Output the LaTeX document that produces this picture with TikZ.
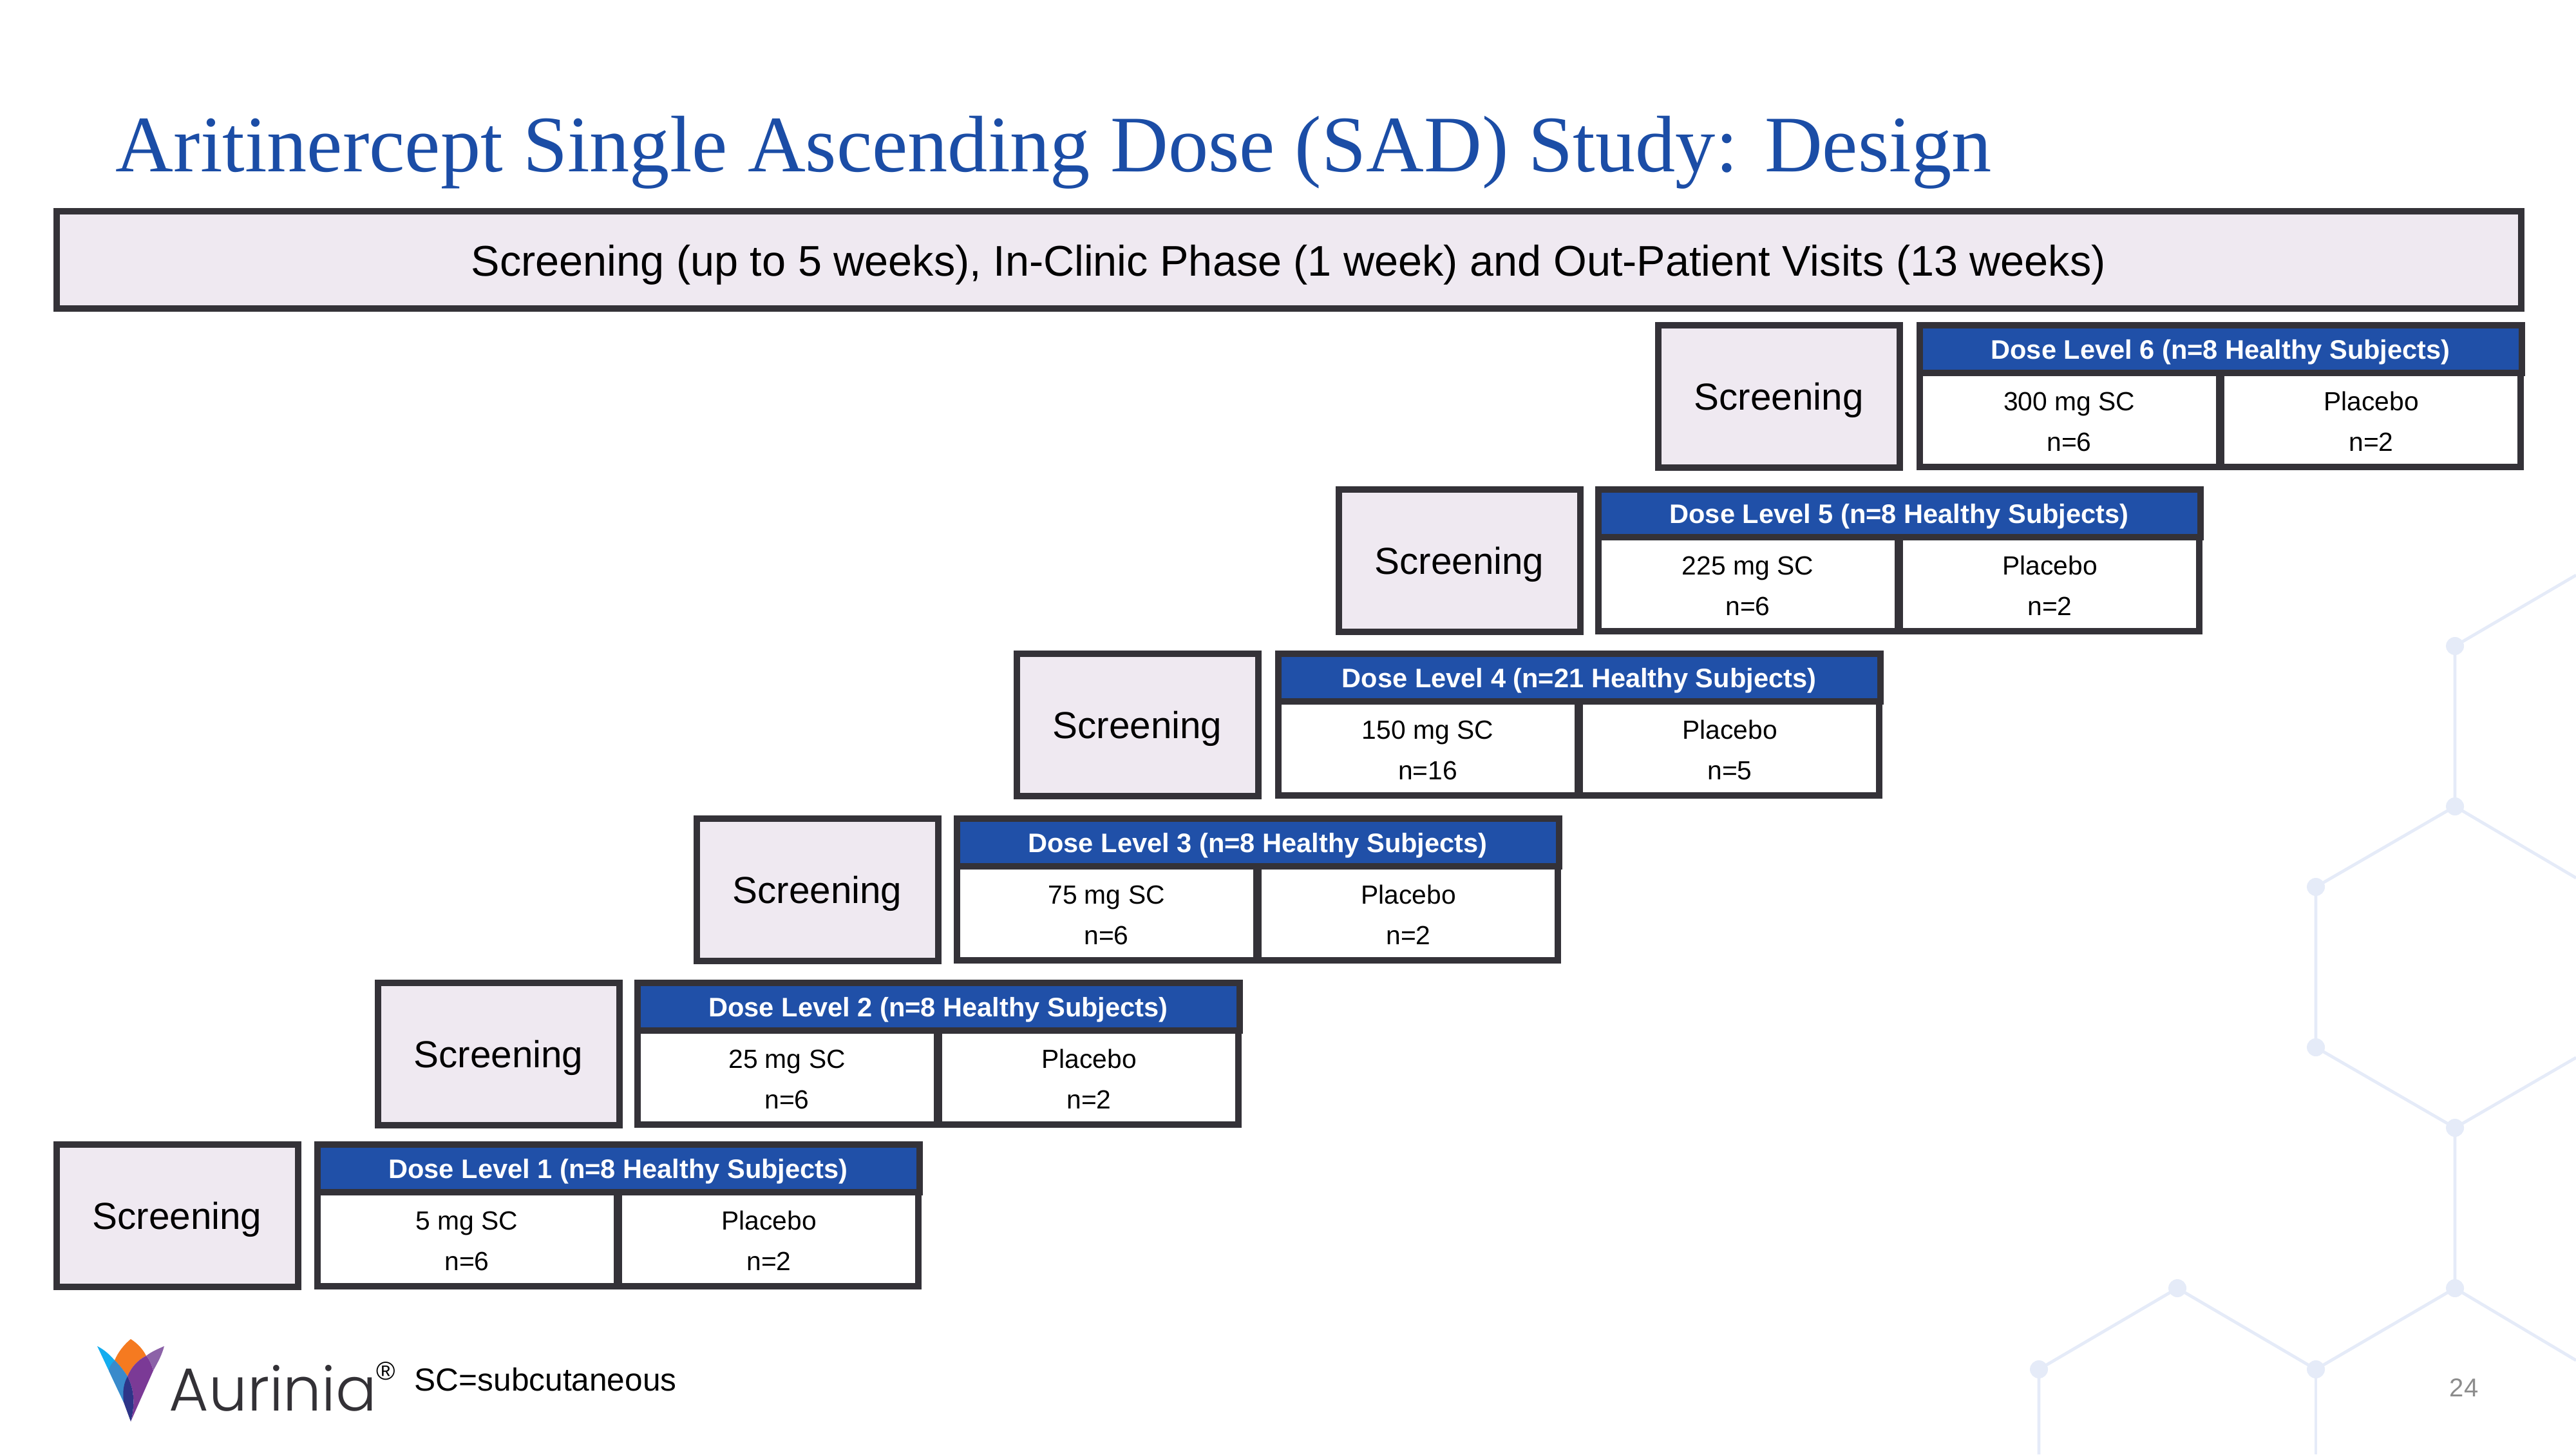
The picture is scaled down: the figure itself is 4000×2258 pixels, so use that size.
\documentclass[tikz,border=0pt]{standalone}
\usepackage{fontspec}
\setmainfont{Liberation Sans}
\newfontfamily\titlefont[RawFeature=-kern]{Liberation Serif}
\newfontfamily\logofont{Poppins Light}
\definecolor{edgegrey}{HTML}{343238}
\definecolor{lilac}{HTML}{EFE9F1}
\definecolor{headblue}{HTML}{2050A8}
\definecolor{titleblue}{HTML}{1B4DA6}
\definecolor{hexblue}{HTML}{E5EBF8}
\definecolor{logoorange}{HTML}{F57A20}
\definecolor{logocyan}{HTML}{14ADEF}
\definecolor{logomid}{HTML}{3A8ACB}
\definecolor{logonavy}{HTML}{2E3488}
\definecolor{logopurple}{HTML}{7B3A96}
\definecolor{logolight}{HTML}{8C62A8}
\definecolor{logotext}{HTML}{333136}
\tikzset{
  framebox/.style={draw=edgegrey,line width=2.5pt,inner sep=0pt,outer sep=0pt,anchor=north west},
  screenbox/.style={framebox,fill=lilac,minimum width=93.75pt,minimum height=55.25pt},
  headbox/.style={framebox,fill=headblue,minimum width=233.75pt,minimum height=18.5pt},
  cellbox/.style={framebox,fill=white,minimum width=116.25pt,minimum height=36.5pt},
  screentext/.style={anchor=base,inner sep=0pt,font=\fontsize{14.6}{16}\selectfont,text=black},
  headtext/.style={anchor=base,inner sep=0pt,font=\fontsize{10.4}{12}\selectfont\bfseries,text=white},
  celltext/.style={anchor=base,inner sep=0pt,font=\fontsize{10.2}{12}\selectfont,text=black},
  hexline/.style={draw=hexblue,line width=1.2pt},
  hexdot/.style={circle,fill=hexblue,inner sep=0pt,minimum size=7pt}
}
% #1 id, #2 screening x, #3 table x, #4 top y, #5 level label, #6 dose, #7 n dose, #8 n placebo
\newcommand{\doserow}[8]{%
  \node[screenbox] (scr#1) at ({#2+5},{#4+5}) {};
  \node[screentext] (scrt#1) at ({#2+192},{#4+136}) {Screening};
  \node[cellbox] (plac#1) at ({#3+473},{#4+79}) {};
  \node[cellbox] (dose#1) at ({#3+5},{#4+79}) {};
  \node[headbox] (head#1) at ({#3+5},{#4+5}) {};
  \node[headtext] (headt#1) at ({#3+472},{#4+57}) {#5};
  \node[celltext] (doset#1) at ({#3+237},{#4+137}) {#6};
  \node[celltext] (dosen#1) at ({#3+237},{#4+200}) {#7};
  \node[celltext] (platt#1) at ({#3+706},{#4+137}) {Placebo};
  \node[celltext] (plan#1) at ({#3+706},{#4+200}) {#8};
}
\begin{document}
\begin{tikzpicture}[x=0.25pt,y=-0.25pt]
\useasboundingbox (0,0) rectangle (4000,2258);
% background hexagons
\foreach \n/\x/\y in {a/3812/1003,b/3812/1252,c/3596/1377,d/3596/1626,e/3812/1751,f/3812/2000,g/3596/2126,h/3381/2000,i/3166/2126}
  \node[hexdot] (\n) at (\x,\y) {};
\coordinate (a1) at (4000,893);
\coordinate (b1) at (4000,1363);
\coordinate (e1) at (4000,1642);
\coordinate (f1) at (4000,2112);
\coordinate (g1) at (3596,2258);
\coordinate (i1) at (3166,2258);
\draw[hexline] (a1)--(a.center)--(b.center)--(c.center)--(d.center)--(e.center)--(f.center)--(g.center)--(h.center)--(i.center)--(i1);
\draw[hexline] (b.center)--(b1);
\draw[hexline] (e.center)--(e1);
\draw[hexline] (f.center)--(f1);
\draw[hexline] (g.center)--(g1);
% title
\node[anchor=base west,inner sep=0pt,text=titleblue,font=\titlefont\fontsize{31.1}{34}\selectfont] (title) at (179,267) {Aritinercept Single Ascending Dose (SAD) Study: Design};
% top bar
\node[framebox,fill=lilac,minimum width=956.75pt,minimum height=37.75pt] (bar) at (88,328) {};
\node[anchor=base,inner sep=0pt,font=\fontsize{16.65}{18}\selectfont] (bart) at (2001,428) {Screening (up to 5 weeks), In-Clinic Phase (1 week) and Out-Patient Visits (13 weeks)};
% rows
\doserow{6}{2570}{2976}{500}{Dose Level 6 (n=8 Healthy Subjects)}{300 mg SC}{n=6}{n=2}
\doserow{5}{2074}{2477}{755}{Dose Level 5 (n=8 Healthy Subjects)}{225 mg SC}{n=6}{n=2}
\doserow{4}{1574}{1980}{1010}{Dose Level 4 (n=21 Healthy Subjects)}{150 mg SC}{n=16}{n=5}
\doserow{3}{1077}{1481}{1266}{Dose Level 3 (n=8 Healthy Subjects)}{75 mg SC}{n=6}{n=2}
\doserow{2}{582}{985}{1521}{Dose Level 2 (n=8 Healthy Subjects)}{25 mg SC}{n=6}{n=2}
\doserow{1}{83}{488}{1772}{Dose Level 1 (n=8 Healthy Subjects)}{5 mg SC}{n=6}{n=2}
% logo
\fill[logoorange] (203,2079) .. controls (214,2086) and (222,2095) .. (227,2105) .. controls (213,2112) and (203,2124) .. (198,2137) .. controls (192,2128) and (186,2120) .. (178,2112) .. controls (183,2100) and (192,2088) .. (203,2079) -- cycle;
\fill[logocyan] (151,2090) .. controls (163,2096) and (171,2104) .. (178,2112) .. controls (186,2120) and (192,2128) .. (198,2137) -- (192,2177) -- cycle;
\fill[logomid] (178,2112) .. controls (172,2118) and (169,2124) .. (169,2128) -- (192,2177) .. controls (190,2160) and (192,2148) .. (198,2137) .. controls (192,2128) and (186,2120) .. (178,2112) -- cycle;
\fill[logopurple] (198,2137) .. controls (203,2124) and (213,2112) .. (227,2105) .. controls (232,2110) and (236,2120) .. (238,2128) -- (203,2207) .. controls (209,2185) and (210,2160) .. (198,2137) -- cycle;
\fill[logolight] (227,2105) .. controls (236,2098) and (246,2094) .. (255,2090) .. controls (251,2105) and (245,2115) .. (238,2128) .. controls (236,2120) and (232,2110) .. (227,2105) -- cycle;
\fill[logonavy] (198,2137) .. controls (210,2160) and (209,2185) .. (203,2207) -- (192,2177) .. controls (190,2160) and (192,2148) .. (198,2137) -- cycle;
\node[anchor=base west,inner sep=0pt,text=logotext,font=\logofont\fontsize{23.6}{27}\selectfont] (logotext) at (262,2190) {Aurinia};
\node[inner sep=0pt,text=black,font=\fontsize{10}{11}\selectfont] (reg) at (599,2129) {®};
\node[anchor=base west,inner sep=0pt,font=\fontsize{12.4}{14}\selectfont] (sc) at (643,2159) {SC=subcutaneous};
\node[inner sep=0pt,text=black!45,font=\fontsize{10}{12}\selectfont] (page) at (3826,2155) {24};
\end{tikzpicture}
\end{document}
